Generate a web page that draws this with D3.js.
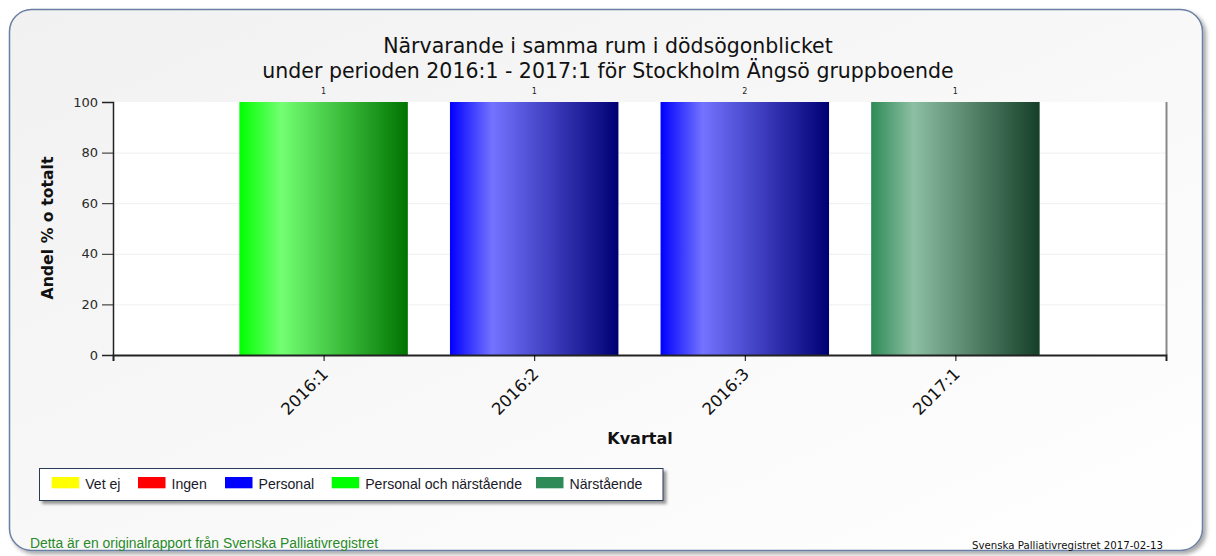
<!DOCTYPE html>
<html><head><meta charset="utf-8">
<script src="https://cdn.jsdelivr.net/npm/d3@7"></script>
<style>html,body{margin:0;padding:0;background:#fff;}svg{display:block;}</style>
</head><body>
<script>
const categories = ["2016:1","2016:2","2016:3","2017:1"];
const values = [100,100,100,100];
const counts = [1,1,2,1];
const barSeries = ["Personal och närstående","Personal","Personal","Närstående"];
const legendNames = ["Vet ej","Ingen","Personal","Personal och närstående","Närstående"];
const legendColors = ["#ffff00","#ff0000","#0000ff","#00ff00","#2e8b57"];
const yTicks = [0,20,40,60,80,100];
const titleLines = ["Närvarande i samma rum i dödsögonblicket","under perioden 2016:1 - 2017:1 för Stockholm Ängsö gruppboende"];

(function(){
const W=1216,H=556;
const svg=d3.select("body").append("svg").attr("width",W).attr("height",H);
const defs=svg.append("defs");

const pg=defs.append("linearGradient").attr("id","panelg").attr("x1",0).attr("y1",0).attr("x2",1).attr("y2",1);
pg.append("stop").attr("offset",0).attr("stop-color","#f1f1f1");
pg.append("stop").attr("offset",1).attr("stop-color","#ffffff");
const sh=defs.append("filter").attr("id","shadow").attr("x","-5%").attr("y","-5%").attr("width","110%").attr("height","115%");
sh.append("feDropShadow").attr("dx",3).attr("dy",3).attr("stdDeviation",2).attr("flood-color","#000").attr("flood-opacity",0.35);
svg.append("rect").attr("x",9.5).attr("y",9.5).attr("width",1193).attr("height",541).attr("rx",22)
  .attr("fill","url(#panelg)").attr("stroke","#6a7fa3").attr("stroke-width",1.5).attr("filter","url(#shadow)");

function mkGrad(id,base){
  const light=d3.interpolateRgb(base,"#ffffff")(0.45);
  const dark=d3.color(base).darker(2.2);
  const g=defs.append("linearGradient").attr("id",id).attr("x1",0).attr("x2",1).attr("y1",0).attr("y2",0);
  g.append("stop").attr("offset",0).attr("stop-color",base);
  g.append("stop").attr("offset",0.25).attr("stop-color",light);
  g.append("stop").attr("offset",1).attr("stop-color",dark);
}
legendNames.forEach((n,i)=>mkGrad("g"+i,legendColors[i]));

const pL=113,pR=1166,pT=102,pB=355;
const x=d3.scaleLinear().domain([0,categories.length+1]).range([pL,pR]);
const y=d3.scaleLinear().domain([0,100]).range([pB,pT]);
const step=x(1)-x(0), bw=step*0.8;

svg.append("rect").attr("x",pL).attr("y",pT).attr("width",pR-pL).attr("height",pB-pT).attr("fill","#fff");
svg.append("g").selectAll("line").data(yTicks.filter(t=>t>0&&t<100)).join("line")
  .attr("x1",pL).attr("x2",pR).attr("y1",d=>y(d)+0.5).attr("y2",d=>y(d)+0.5).attr("stroke","#efefef");
svg.append("line").attr("x1",pR+0.5).attr("x2",pR+0.5).attr("y1",pT).attr("y2",pB).attr("stroke","#888").attr("stroke-width",2);

svg.append("g").selectAll("rect").data(categories).join("rect")
  .attr("x",(d,i)=>x(i+1)-bw/2).attr("width",bw)
  .attr("y",(d,i)=>y(values[i])).attr("height",(d,i)=>y(0)-y(values[i]))
  .attr("fill",(d,i)=>"url(#g"+legendNames.indexOf(barSeries[i])+")");
svg.append("g").selectAll("text").data(categories).join("text")
  .attr("x",(d,i)=>x(i+1)).attr("y",(d,i)=>y(values[i])-8)
  .attr("text-anchor","middle").attr("font-family","DejaVu Sans").attr("font-size",8).attr("fill","#222")
  .text((d,i)=>counts[i]);

const ya=svg.append("g").attr("transform",`translate(${pL},0)`).call(d3.axisLeft(y).tickValues(yTicks).tickSize(11).tickPadding(4));
ya.select(".domain").attr("stroke","#222").attr("stroke-width",1.5);
ya.selectAll(".tick line").attr("stroke","#222");
ya.selectAll("text").attr("font-family","DejaVu Sans").attr("font-size",13).attr("fill","#2a2a2a");
const xa=svg.append("g").attr("transform",`translate(0,${pB})`)
  .call(d3.axisBottom(x).tickValues(d3.range(1,categories.length+1)).tickFormat(d=>categories[d-1]).tickSize(6).tickSizeOuter(6));
xa.select(".domain").attr("stroke","#222").attr("stroke-width",2);
xa.selectAll("text").attr("font-family","DejaVu Sans").attr("font-size",16.5).attr("fill","#111")
  .attr("text-anchor","end").attr("x",0).attr("y",0).attr("dy",0).attr("transform","translate(5,20) rotate(-45)");

svg.append("g").selectAll("text").data(titleLines).join("text")
  .attr("x",608).attr("y",(d,i)=>53+i*25).attr("text-anchor","middle")
  .attr("font-family","DejaVu Sans").attr("font-size",20.5).attr("fill","#111").text(d=>d);
svg.append("text").attr("x",640).attr("y",444).attr("text-anchor","middle").attr("font-family","DejaVu Sans")
  .attr("font-weight","bold").attr("font-size",16).attr("fill","#111").text("Kvartal");
svg.append("text").attr("transform","translate(53,228) rotate(-90)").attr("text-anchor","middle").attr("font-family","DejaVu Sans")
  .attr("font-weight","bold").attr("font-size",15).attr("fill","#111").attr("textLength",143).attr("lengthAdjust","spacingAndGlyphs")
  .text("Andel % o totalt");

const lf=defs.append("filter").attr("id","lshadow").attr("x","-5%").attr("y","-20%").attr("width","110%").attr("height","160%");
lf.append("feDropShadow").attr("dx",3).attr("dy",3).attr("stdDeviation",1.5).attr("flood-color","#000").attr("flood-opacity",0.4);
svg.append("rect").attr("x",39.5).attr("y",468.5).attr("width",623.5).attr("height",32).attr("fill","#fff")
  .attr("stroke","#2b3a5a").attr("stroke-width",1).attr("filter","url(#lshadow)");
const lx=[51.7,138,225,331.7,536];
const lg=svg.append("g").selectAll("g").data(legendNames).join("g").attr("transform",(d,i)=>`translate(${lx[i]},477)`);
lg.append("rect").attr("width",27.5).attr("height",11.3).attr("fill",(d,i)=>legendColors[i]);
lg.append("text").attr("x",33.5).attr("y",11.5).attr("font-family","Liberation Sans").attr("font-size",15)
  .attr("fill","#1a1a2a").text(d=>d)
  .each(function(){const w=this.getComputedTextLength();d3.select(this).attr("textLength",w*0.94).attr("lengthAdjust","spacingAndGlyphs");});

svg.append("text").attr("x",30).attr("y",548).attr("font-family","Liberation Sans").attr("font-size",14).attr("fill","#2a8a2a")
  .text("Detta är en originalrapport från Svenska Palliativregistret")
  .attr("textLength",348).attr("lengthAdjust","spacingAndGlyphs");
svg.append("text").attr("x",1163).attr("y",549).attr("text-anchor","end").attr("font-family","DejaVu Sans").attr("font-size",10).attr("fill","#111")
  .attr("textLength",191).attr("lengthAdjust","spacingAndGlyphs")
  .text("Svenska Palliativregistret 2017-02-13");
})();
</script>
</body></html>
